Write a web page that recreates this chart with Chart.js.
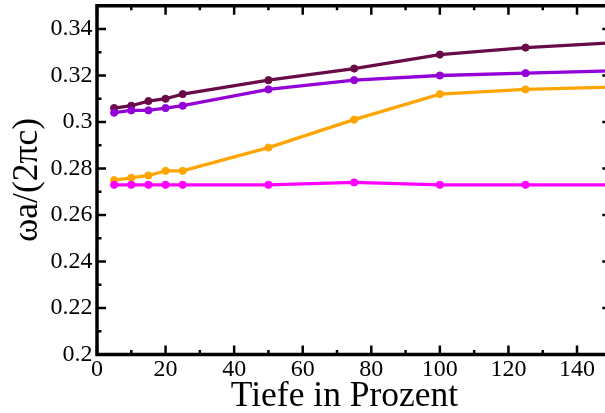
<!DOCTYPE html>
<html>
<head>
<meta charset="utf-8">
<script src="https://cdn.jsdelivr.net/npm/chart.js@4/dist/chart.umd.min.js"></script>
<style>
html,body{margin:0;padding:0;overflow:hidden;background:#fff;width:605px;height:413px;}
canvas{display:block;}
</style>
</head>
<body>
<canvas id="c" width="640" height="413"></canvas>
<script>
// ---- data ----
const depthPercent = [5, 10, 15, 20, 25, 50, 75, 100, 125, 150];
const bandMaroon  = [0.306, 0.307, 0.309, 0.310, 0.312, 0.318, 0.323, 0.329, 0.332, 0.334];
const bandPurple  = [0.304, 0.305, 0.305, 0.306, 0.307, 0.314, 0.318, 0.320, 0.321, 0.322];
const bandOrange  = [0.275, 0.276, 0.277, 0.279, 0.279, 0.289, 0.301, 0.312, 0.314, 0.315];
const bandMagenta = [0.273, 0.273, 0.273, 0.273, 0.273, 0.273, 0.274, 0.273, 0.273, 0.273];

const xMajorTicks = [0, 20, 40, 60, 80, 100, 120, 140];
const xMinorTicks = [10, 30, 50, 70, 90, 110, 130, 150];
const yMajorTicks = [0.2, 0.22, 0.24, 0.26, 0.28, 0.3, 0.32, 0.34];
const yTickLabels = ["0.2", "0.22", "0.24", "0.26", "0.28", "0.3", "0.32", "0.34"];
const yMinorTicks = [0.21, 0.23, 0.25, 0.27, 0.29, 0.31, 0.33, 0.35];
const xTitle = "Tiefe in Prozent";
const yTitle = "ωa/(2πc)";

const FONT = "'Liberation Serif', 'Times New Roman', serif";

function series(ys, color) {
  return {
    data: depthPercent.map((x, i) => ({x: x, y: ys[i]})),
    borderColor: color,
    backgroundColor: color,
    borderWidth: 3.3,
    pointRadius: 3.6,
    pointBorderWidth: 1,
    pointHoverRadius: 3.6,
    tension: 0
  };
}

const framePlugin = {
  id: 'frame',
  afterDraw(chart) {
    const ctx = chart.ctx;
    const xs = chart.scales.x, ys = chart.scales.y;
    const a = chart.chartArea;
    ctx.save();
    ctx.strokeStyle = '#000';
    ctx.lineCap = 'butt';
    ctx.lineWidth = 2.5;
    const tick = (x1, y1, x2, y2) => { ctx.beginPath(); ctx.moveTo(x1, y1); ctx.lineTo(x2, y2); ctx.stroke(); };
    xMajorTicks.forEach(v => { const p = xs.getPixelForValue(v); tick(p, a.bottom, p, a.bottom - 9); tick(p, a.top, p, a.top + 9); });
    xMinorTicks.forEach(v => { const p = xs.getPixelForValue(v); tick(p, a.bottom, p, a.bottom - 4.5); tick(p, a.top, p, a.top + 4.5); });
    yMajorTicks.forEach(v => { const p = ys.getPixelForValue(v); tick(a.left, p, a.left + 9, p); tick(a.right, p, a.right - 9, p); });
    yMinorTicks.forEach(v => { const p = ys.getPixelForValue(v); tick(a.left, p, a.left + 4.5, p); tick(a.right, p, a.right - 4.5, p); });
    ctx.lineWidth = 3.5;
    ctx.beginPath();
    ctx.moveTo(a.left, a.top); ctx.lineTo(a.right, a.top);
    ctx.lineTo(a.right, a.bottom); ctx.lineTo(a.left, a.bottom); ctx.closePath();
    ctx.stroke();
    ctx.fillStyle = '#000';
    ctx.font = "35.5px " + FONT;
    ctx.textAlign = 'center';
    ctx.textBaseline = 'alphabetic';
    ctx.fillText(xTitle, 344.5, 406);
    ctx.translate(37, 180);
    ctx.rotate(-Math.PI / 2);
    ctx.fillText(yTitle, 0, 0);
    ctx.restore();
  }
};

new Chart(document.getElementById('c'), {
  type: 'line',
  data: {
    datasets: [
      series(bandMagenta, '#ff00ff'),
      series(bandOrange, '#ffa500'),
      series(bandPurple, '#9400d8'),
      series(bandMaroon, '#680c48')
    ]
  },
  options: {
    responsive: false,
    animation: false,
    devicePixelRatio: 1,
    layout: { padding: { top: 5.75, left: 0, right: 28.7, bottom: 0 } },
    plugins: { legend: { display: false }, tooltip: { enabled: false } },
    scales: {
      x: {
        type: 'linear', min: 0, max: 150,
        afterBuildTicks: ax => { ax.ticks = xMajorTicks.map(v => ({value: v})); },
        afterFit: ax => { ax.height = 58.5; ax.paddingLeft = 0; ax.paddingRight = 0; },
        grid: { display: false, drawTicks: false },
        border: { display: false },
        ticks: { autoSkip: false, maxRotation: 0, padding: 1, color: '#000', font: { family: FONT, size: 24 } }
      },
      y: {
        type: 'linear', min: 0.2, max: 0.35,
        afterBuildTicks: ax => { ax.ticks = yMajorTicks.map(v => ({value: v})); },
        afterFit: ax => { ax.width = 97; ax.paddingTop = 0; ax.paddingBottom = 0; },
        grid: { display: false, drawTicks: false },
        border: { display: false },
        ticks: {
          autoSkip: false, padding: 4.5, color: '#000', font: { family: FONT, size: 24 },
          callback: (v) => { const i = yMajorTicks.findIndex(t => Math.abs(t - v) < 1e-9); return i >= 0 ? yTickLabels[i] : ''; }
        }
      }
    }
  },
  plugins: [framePlugin]
});
</script>
</body>
</html>
